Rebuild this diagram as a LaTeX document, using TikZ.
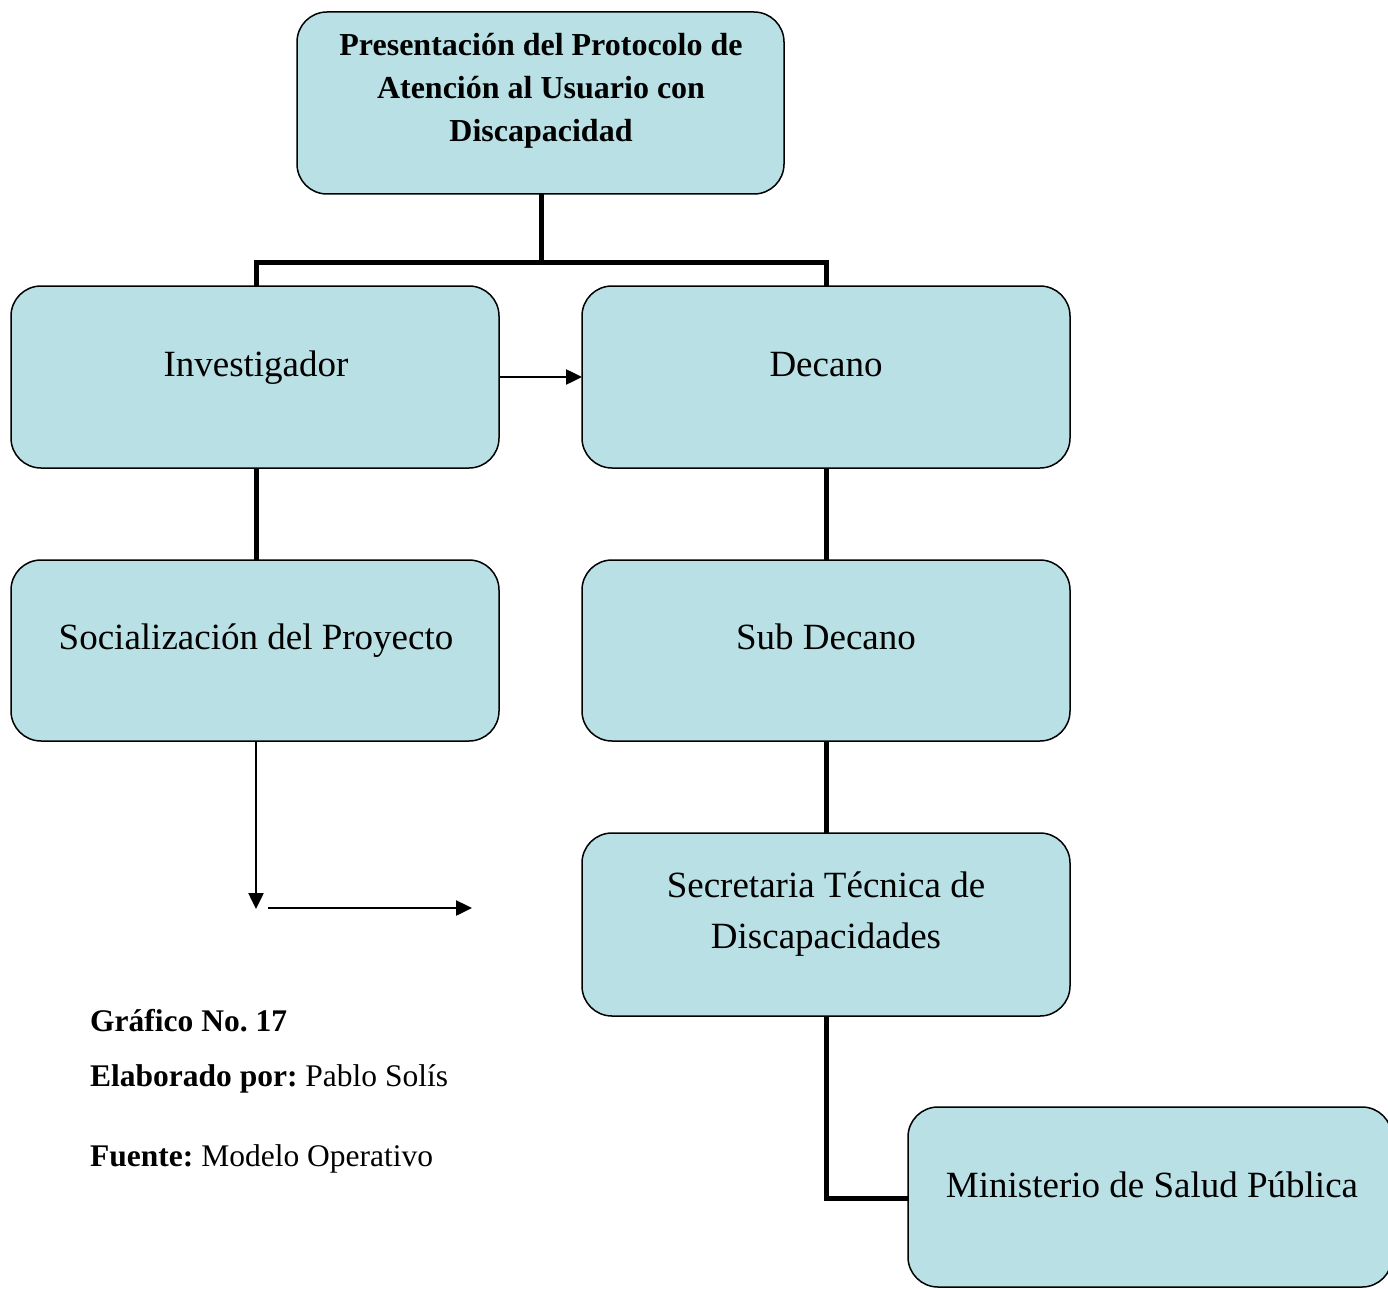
\documentclass[tikz,border=0pt]{standalone}
\usepackage{fontspec}
\setmainfont{Liberation Serif}
\usetikzlibrary{arrows.meta}
\definecolor{boxfill}{RGB}{185,224,228}
\frenchspacing
\begin{document}
\begin{tikzpicture}[x=1pt,y=-1pt,
  box/.style={draw=black,line width=1.5pt,fill=boxfill,rounded corners=30pt},
  lbl/.style={anchor=base,inner sep=0pt,font=\fontsize{37}{51}\selectfont,align=center},
  thick link/.style={line width=5pt},
  thin link/.style={line width=2.5pt,-{Triangle[length=16pt,width=15pt]}}]
\useasboundingbox (0,0) rectangle (1388,1289);
\clip (0,0) rectangle (1388,1289);
% boxes
\draw[box] (297,12) rectangle (784,194);
\coordinate (top) at (541,194);
\draw[box] (11,286) rectangle (499,468);
\draw[box] (582,286) rectangle (1070,468);
\draw[box] (11,560) rectangle (499,741);
\draw[box] (582,560) rectangle (1070,741);
\draw[box] (582,833) rectangle (1070,1016);
\draw[box] (908,1107) rectangle (1392,1287);
% named anchors
\coordinate (inv-n) at (256,286); \coordinate (inv-e) at (499,377); \coordinate (inv-s) at (256,468);
\coordinate (dec-n) at (826,286); \coordinate (dec-w) at (582,377); \coordinate (dec-s) at (826,468);
\coordinate (soc-n) at (256,560); \coordinate (soc-s) at (256,741);
\coordinate (sub-n) at (826,560); \coordinate (sub-s) at (826,741);
\coordinate (sec-n) at (826,833); \coordinate (sec-s) at (826,1016);
\coordinate (min-w) at (908,1198);
\coordinate (fork) at (541,262);
\coordinate (end1) at (256,909);
\coordinate (start2) at (268,908);
\coordinate (end2) at (472,908);
% texts
\node[lbl,font=\fontsize{32}{43}\selectfont\bfseries] (ttop) at (541,142) {Presentación del Protocolo de\\Atención al Usuario con\\Discapacidad};
\node[lbl] (tinv) at (256,376) {Investigador};
\node[lbl] (tdec) at (826,376) {Decano};
\node[lbl] (tsoc) at (256,649) {Socialización del Proyecto};
\node[lbl] (tsub) at (826,649) {Sub Decano};
\node[lbl] (tsec) at (826,948) {Secretaria Técnica de\\Discapacidades};
\node[lbl] (tmin) at (1152,1197) {Ministerio de Salud Pública};
% connectors
\draw[thick link] (top) -- (fork);
\draw[thick link] (inv-n) |- (fork) -| (dec-n);
\draw[thin link] (inv-e) -- (dec-w);
\draw[thick link] (inv-s) -- (soc-n);
\draw[thick link] (dec-s) -- (sub-n);
\draw[thick link] (sub-s) -- (sec-n);
\draw[thick link] (sec-s) |- (min-w);
\draw[thin link] (soc-s) -- (end1);
\draw[thin link] (start2) -- (end2);
% caption
\node[anchor=base west,inner sep=0pt,font=\fontsize{31.5}{36}\selectfont] (cap1) at (90,1031) {\textbf{Gráfico No. 17}};
\node[anchor=base west,inner sep=0pt,font=\fontsize{31.5}{36}\selectfont] (cap2) at (90,1086) {\textbf{Elaborado por:} Pablo Solís};
\node[anchor=base west,inner sep=0pt,font=\fontsize{31.5}{36}\selectfont] (cap3) at (90,1166) {\textbf{Fuente:} Modelo Operativo};
\end{tikzpicture}
\end{document}
